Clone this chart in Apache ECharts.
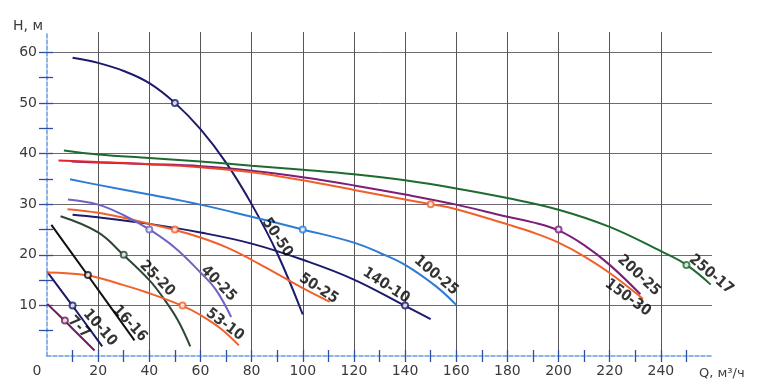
<!DOCTYPE html>
<html><head><meta charset="utf-8">
<script src="https://cdn.jsdelivr.net/npm/echarts@6/dist/echarts.min.js"></script>
<style>html,body{margin:0;padding:0;background:#fff}#c{width:770px;height:386px}</style>
</head><body><div id="c"></div>
<script>
// Pump curves: [Q (m3/h), H (m)]
const c50_50  = [[10,58.9],[20,57.9],[30,56.3],[40,53.9],[50,50.0],[60,44.8],[70,38.2],[80,30.0],[90,20.3],[100,8.2]];
const c250_17 = [[6.6,40.6],[20,39.8],[40,39.1],[60,38.4],[80,37.6],[100,36.8],[120,35.9],[140,34.7],[160,33.1],[180,31.2],[200,28.9],[220,25.5],[240,20.7],[250,18.0],[259.5,14.1]];
const c200_25 = [[9.6,38.4],[20,38.2],[40,37.9],[60,37.5],[80,36.6],[100,35.3],[120,33.7],[140,31.9],[160,29.9],[180,27.5],[190,26.4],[200,24.8],[210,21.9],[220,18.0],[232,12.2]];
const c150_30 = [[4.5,38.6],[20,38.3],[40,37.9],[60,37.3],[80,36.3],[100,34.7],[120,32.8],[140,30.9],[150,30.0],[160,29.0],[180,26.0],[190,24.4],[200,22.4],[210,19.7],[220,16.4],[233,11.3]];
const c100_25 = [[9,34.9],[20,33.8],[40,31.9],[60,29.9],[80,27.5],[100,25.0],[120,22.4],[130,20.4],[140,18.0],[152,13.8],[160,10.1]];
const c140_10 = [[10,27.9],[20,27.4],[40,26.1],[60,24.4],[80,22.2],[100,19.0],[120,15.1],[140,9.9],[150,7.3]];
const c50_25  = [[8,29.0],[20,28.3],[30,27.3],[40,26.1],[50,24.9],[60,23.4],[70,21.5],[80,19.0],[90,16.2],[100,13.4],[110.5,10.7]];
const c40_25  = [[8.2,30.9],[20,29.9],[30,27.8],[40,25.0],[50,21.4],[60,16.5],[66,13.1],[72,7.7]];
const c25_20  = [[5.3,27.6],[20,24.4],[30,19.9],[40,15.0],[45,11.8],[51,7.2],[56,1.9]];
const c16_16  = [[1.7,25.9],[16,15.9],[34.2,3.1]];
const c10_10  = [[0.1,16.6],[10,9.9],[21.6,1.9]];
const c7_7    = [[0.1,10.3],[7.2,6.8],[18.6,1.1]];
const c53_10  = [[0,16.5],[16,15.9],[30,14.0],[40,12.4],[53,9.9],[60,8.1],[68,5.4],[75,2.1]];

const curveNames = ['50-50','250-17','200-25','150-30','100-25','140-10','50-25','40-25','25-20','16-16','10-10','7-7','53-10'];
const curveData  = [c50_50,c250_17,c200_25,c150_30,c100_25,c140_10,c50_25,c40_25,c25_20,c16_16,c10_10,c7_7,c53_10];

// nominal points (circles)
const markerQ = [50,250,200,150,100,140,50,40,30,16,10,7,53];
const markerH = [50,18,25,30,25,10,25,25,20,16,10,7,10];

// curve labels (anchored in data coordinates)
const labelText = ['50-50','250-17','200-25','150-30','100-25','140-10','50-25','40-25','25-20','16-16','10-10','7-7','53-10'];
const labelQ = [90,259.7,231.4,227.1,152.1,132.6,106.2,67.1,43.1,32.4,20.7,12.5,69.5];
const labelH = [23.4,16.1,15.9,11.5,15.9,13.9,13.3,14.3,15.3,6.4,5.6,5.7,6.2];

const xTickValues = [10,20,30,40,50,60,70,80,90,100,110,120,130,140,150,160,170,180,190,200,210,220,230,240,250];
const yTickValues = [5,10,15,20,25,30,35,40,45,50,55,60];

// styles
const colors = ['#1b1a6b','#1f6a30','#7b1f78','#f2602a','#2e7bd4','#1b1a6b','#f2602a','#6c64c4','#2e4634','#111111','#1b1a6b','#6b1e5c','#f2602a'];
const labelAngle = [-56,-40,-43,-36,-40,-33,-33,-45,-45,-47,-49,-45,-37];

const chart = echarts.init(document.getElementById('c'), null, {renderer:'canvas'});
const axisBlue = '#6a9ae0', tickBlue = '#2c4fa6';
const labelFont = {fontFamily:'DejaVu Sans', fontSize:14, color:'#3a3a3a'};

const series = curveData.map((d,i) => ({
  type:'line', name:curveNames[i], data:d, smooth:0.4, showSymbol:false, symbol:'none',
  xAxisIndex:0, yAxisIndex:0, z:3, silent:true,
  lineStyle:{width:2, color: i===3 ? new echarts.graphic.LinearGradient(0,0,1,0,[
    {offset:0,color:'#e61f2a'},{offset:0.25,color:'#e93a28'},{offset:0.33,color:'#f2602a'},{offset:1,color:'#f2602a'}]) : colors[i]}
}));
series.push({
  type:'scatter', name:'points', symbol:'emptyCircle', symbolSize:6, z:4, silent:true,
  data: markerQ.map((q,i)=>({value:[q,markerH[i]], itemStyle:{color:colors[i], borderWidth:1.3}}))
});
series.push({
  type:'scatter', name:'labels', symbol:'circle', symbolSize:1, z:5, silent:true,
  itemStyle:{color:'rgba(0,0,0,0)'},
  data: labelText.map((t,i)=>({value:[labelQ[i],labelH[i]], label:{rotate:labelAngle[i]}})),
  label:{show:true, position:'inside', align:'center', verticalAlign:'middle',
    formatter:p => labelText[p.dataIndex],
    fontFamily:'Liberation Sans Narrow, DejaVu Sans Condensed, sans-serif', fontWeight:'bold', fontSize:15, color:'#000'},
  labelLayout:{hideOverlap:false}
});

chart.setOption({
  animation:false,
  backgroundColor:'#fff',
  grid:{left:47, right:58, top:32, bottom:30, containLabel:false},
  title:[
    {text:'H, м', left:8, top:14, textStyle:{fontFamily:'DejaVu Sans', fontSize:14, fontWeight:'normal', color:'#3a3a3a'}},
    {text:'Q, м³/ч', left:694, top:362, textStyle:{fontFamily:'DejaVu Sans', fontSize:13, fontWeight:'normal', color:'#3a3a3a'}}
  ],
  xAxis:[
    {type:'value', min:0, max:260, interval:20, position:'bottom',
     axisLine:{show:true, onZero:false, lineStyle:{color:axisBlue, width:1.5, type:[4,2]}},
     axisTick:{show:false},
     axisLabel:{show:true, margin:8, ...labelFont,
       formatter:v => v===0 ? '{z|0}' : (v<=240 ? String(v) : ''),
       rich:{z:{...labelFont, padding:[0,20,0,0]}}},
     splitLine:{show:true, showMinLine:false, showMaxLine:false, lineStyle:{color:'#555', width:1}}},
    {type:'value', min:0, max:260, interval:10, position:'bottom',
     axisLine:{show:false, onZero:false}, axisLabel:{show:false}, splitLine:{show:false},
     axisTick:{show:true, length:6, customValues:xTickValues, lineStyle:{color:tickBlue, width:1.3}}},
    {type:'value', min:0, max:260, interval:10, position:'bottom',
     axisLine:{show:false, onZero:false}, axisLabel:{show:false}, splitLine:{show:false},
     axisTick:{show:true, inside:true, length:6, customValues:xTickValues, lineStyle:{color:tickBlue, width:1.3}}}
  ],
  yAxis:[
    {type:'value', min:0, max:64, interval:10, position:'left',
     axisLine:{show:true, onZero:false, lineStyle:{color:axisBlue, width:1.5, type:[4,2]}},
     axisTick:{show:false},
     axisLabel:{show:true, margin:10, ...labelFont, formatter:v => (v>0 && v%10===0 && v<=60) ? String(v) : ''},
     splitLine:{show:true, showMinLine:false, showMaxLine:false, lineStyle:{color:'#6f6872', width:1}}},
    {type:'value', min:0, max:64, interval:5, position:'left',
     axisLine:{show:false, onZero:false}, axisLabel:{show:false}, splitLine:{show:false},
     axisTick:{show:true, length:8, customValues:yTickValues, lineStyle:{color:tickBlue, width:1.3}}},
    {type:'value', min:0, max:64, interval:5, position:'left',
     axisLine:{show:false, onZero:false}, axisLabel:{show:false}, splitLine:{show:false},
     axisTick:{show:true, inside:true, length:6, customValues:yTickValues, lineStyle:{color:tickBlue, width:1.3}}}
  ],
  series
});
</script></body></html>
